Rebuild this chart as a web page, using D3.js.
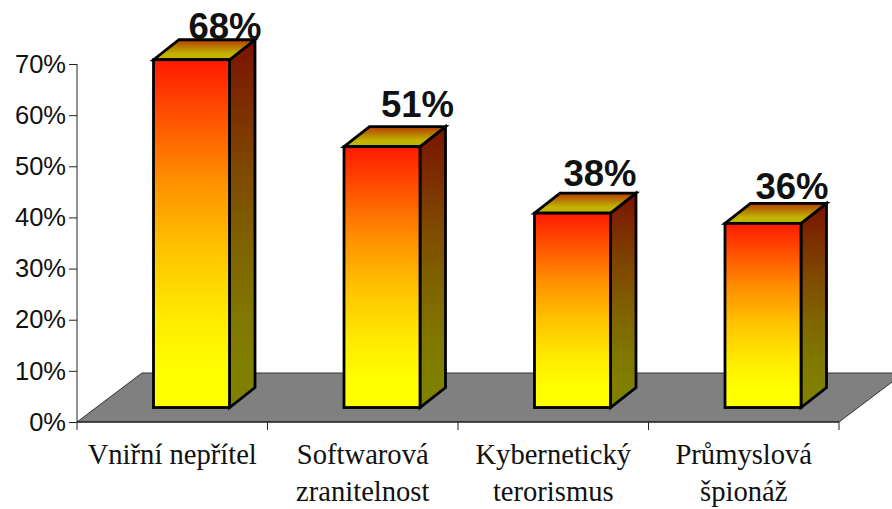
<!DOCTYPE html>
<html><head><meta charset="utf-8">
<script src="https://cdn.jsdelivr.net/npm/d3@7/dist/d3.min.js"></script>
<style>html,body{margin:0;padding:0;background:#fff}svg{display:block}</style>
</head><body><svg id="c" width="892" height="509"></svg>
<script>
const categories = [["Vniřní nepřítel"],["Softwarová","zranitelnost"],["Kybernetický","terorismus"],["Průmyslová","špionáž"]];
const values = [68,51,38,36];
const valueLabels = ["68%","51%","38%","36%"];
const ticks = [0,10,20,30,40,50,60,70];

const svg = d3.select("#c");
const x0=77,x1=839,yB=422,yT=64,dx=65,dy=49,bdx=25.5,bdy=20,barLift=14.5;
const x = d3.scaleBand().domain(d3.range(categories.length)).range([x0,x1]);
const y = d3.scaleLinear().domain([0,70]).range([yB,yT]);
const defs = svg.append("defs");
function grad(id,stops){
  const g=defs.append("linearGradient").attr("id",id).attr("x1",0).attr("y1",0).attr("x2",0).attr("y2",1);
  stops.forEach(([o,c])=>g.append("stop").attr("offset",o).attr("stop-color",c));
}
grad("front",[[0,"#ff1a00"],[0.35,"#ff9000"],[0.55,"#ffc400"],[0.75,"#ffec00"],[0.9,"#ffff00"],[1,"#ffff00"]]);
grad("side",[[0,"#7a1200"],[0.35,"#7f4800"],[0.55,"#7f6200"],[0.75,"#807600"],[0.9,"#808000"],[1,"#808000"]]);
grad("top",[[0,"#b43c00"],[0.7,"#c0b400"],[1,"#c0b400"]]);

// floor
svg.append("path")
  .attr("d",`M${x0},${yB}L${x0+dx},${yB-dy}L${x1+dx},${yB-dy}L${x1},${yB}Z`)
  .attr("fill","#808080").attr("stroke","#333").attr("stroke-width",1);
svg.append("line").attr("x1",x0).attr("x2",x1).attr("y1",yB).attr("y2",yB).attr("stroke","#111").attr("stroke-width",1.2);

// axes
const ax = svg.append("g").attr("transform",`translate(${x0},0)`)
  .call(d3.axisLeft(y).tickValues(ticks).tickFormat(d=>d+"%").tickSize(8).tickPadding(3));
ax.selectAll("path,line").attr("stroke","#222").attr("stroke-width",1);
ax.select("path").attr("d",`M0,${yT}V${yB}`);
ax.selectAll("text").attr("font-family","'Liberation Sans'").attr("font-size",25.5).attr("fill","#111");
const tickXs=d3.range(categories.length+1).map(i=>x0+i*x.step());
svg.selectAll(".xt").data(tickXs).join("line").attr("class","xt")
  .attr("x1",d=>d).attr("x2",d=>d).attr("y1",yB).attr("y2",yB+8).attr("stroke","#222");

// bars
const g = svg.selectAll(".bar").data(values).join("g").attr("class","bar")
  .attr("stroke","#000").attr("stroke-width",2.8).attr("stroke-linejoin","miter");
const bl=i=>x(i)+76.5, bw=76, by=yB-barLift;
const h=v=>yB-y(v);
g.append("path").attr("fill","url(#side)")
  .attr("d",(v,i)=>{const r=bl(i)+bw,t=by-h(v);return `M${r},${t}L${r+bdx},${t-bdy}V${by-bdy}L${r},${by}Z`;});
g.append("path").attr("fill","url(#top)")
  .attr("d",(v,i)=>{const l=bl(i),t=by-h(v);return `M${l},${t}L${l+bdx},${t-bdy}H${l+bw+bdx}L${l+bw},${t}Z`;});
g.append("rect").attr("fill","url(#front)")
  .attr("x",(v,i)=>bl(i)).attr("y",v=>by-h(v)).attr("width",bw).attr("height",v=>h(v));

// value labels (hand-placed in the original, so each has its own nudge)
const labelDx = [71.5,73.5,65.5,67];
const labelDy = [21,30,27,24];
svg.selectAll(".vl").data(values).join("text").attr("class","vl")
  .attr("x",(v,i)=>bl(i)+labelDx[i]).attr("y",(v,i)=>by-h(v)-labelDy[i]).attr("text-anchor","middle")
  .attr("font-family","'Liberation Sans'").attr("font-weight","bold").attr("font-size",36.5).attr("fill","#111")
  .text((v,i)=>valueLabels[i]);

// category labels
svg.selectAll(".cat").data(categories).join("text").attr("class","cat")
  .attr("font-family","'Liberation Serif'").attr("font-size",28.6).attr("fill","#111").attr("text-anchor","middle")
  .each(function(lines,i){
    d3.select(this).selectAll("tspan").data(lines).join("tspan")
      .attr("x",x(i)+x.bandwidth()/2).attr("y",(d,j)=>464+j*37).text(d=>d);
  });
</script></body></html>
